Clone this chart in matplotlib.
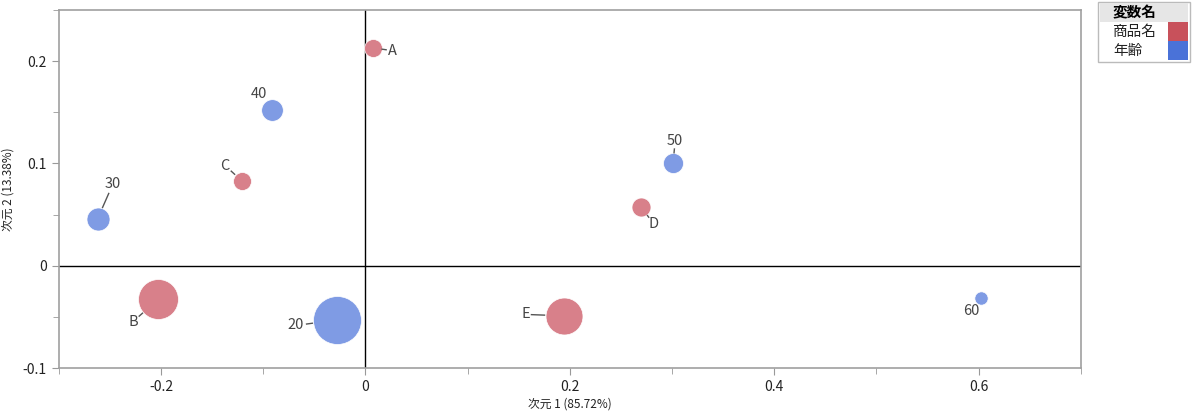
import numpy as np
import matplotlib.pyplot as plt
from matplotlib.patches import Rectangle
from matplotlib.ticker import MultipleLocator

plt.rcParams['font.family'] = ['Noto Sans CJK JP', 'DejaVu Sans']

# データ
labels = ['A', 'B', 'C', 'D', 'E', '20', '30', '40', '50', '60']
groups = ['商品名'] * 5 + ['年齢'] * 5
dim1 = [0.007, -0.203, -0.121, 0.270, 0.194, -0.028, -0.262, -0.091, 0.301, 0.602]
dim2 = [0.213, -0.033, 0.083, 0.057, -0.049, -0.053, 0.046, 0.152, 0.100, -0.032]
mass = [0.042, 0.208, 0.042, 0.047, 0.178, 0.300, 0.069, 0.061, 0.052, 0.023]
legend_names = ['商品名', '年齢']

fill = {'商品名': '#d8808a', '年齢': '#7f9be4'}
swatch = {'商品名': '#c8515b', '年齢': '#4a72d8'}
# ラベル位置 (points)
offs = {'A': (14, -2), 'B': (-18, -16), 'C': (-12, 11), 'D': (9, -12), 'E': (-27, 1),
        '20': (-29.5, -4), '30': (11, 25), '40': (-10, 12), '50': (1.5, 16), '60': (-7, -9)}

fig = plt.figure(figsize=(12, 4.19), dpi=100)
ax = fig.add_axes([0.049, 0.1217, 0.8517, 0.8545])
ax.set_xlim(-0.3, 0.7)
ax.set_ylim(-0.1, 0.25)

pt = fig.dpi / 72
r_pt = np.sqrt(np.array(mass) / 0.3) * 24 * 0.72
for i in range(len(labels)):
    x, y = dim1[i], dim2[i]
    ax.scatter(x, y, s=(2 * r_pt[i]) ** 2, color=fill[groups[i]],
               edgecolor='white', linewidth=0.5, zorder=3)
    dx, dy = offs[labels[i]]
    ax.annotate(labels[i], (x, y), xytext=(dx, dy), textcoords='offset points',
                ha='center', va='center', fontsize=10.5, color='#444444', zorder=4)
    # 引き出し線
    d = np.hypot(dx, dy)
    ux, uy = dx / d, dy / d
    gap = abs(ux) * 3.6 * len(labels[i]) + abs(uy) * 5
    a, b = r_pt[i] + 0.5, d - gap
    if b - a > 1:
        cx, cy = ax.transData.transform((x, y))
        p = np.array([[cx + ux * a * pt, cy + uy * a * pt], [cx + ux * b * pt, cy + uy * b * pt]])
        q = ax.transData.inverted().transform(p)
        ax.plot(q[:, 0], q[:, 1], color='#555555', lw=1, zorder=4)

ax.axhline(0, color='black', lw=1, zorder=1)
ax.axvline(0, color='black', lw=1, zorder=1)

ax.set_xticks([-0.2, 0, 0.2, 0.4, 0.6])
ax.set_xticklabels(['-0.2', '0', '0.2', '0.4', '0.6'])
ax.set_yticks([-0.1, 0, 0.1, 0.2])
ax.set_yticklabels(['-0.1', '0', '0.1', '0.2'])
ax.xaxis.set_minor_locator(MultipleLocator(0.1))
ax.yaxis.set_minor_locator(MultipleLocator(0.05))
ax.tick_params(which='both', colors='#999999', labelcolor='#222222', labelsize=10)
ax.tick_params(which='major', length=5)
ax.tick_params(which='minor', length=4)
for s in ax.spines.values():
    s.set_color('#a0a0a0')
    s.set_linewidth(1.2)
ax.set_xlabel('次元 1 (85.72%)', fontsize=8.5, color='#222222', labelpad=3)
ax.set_ylabel('次元 2 (13.38%)', fontsize=8.5, color='#222222', labelpad=6)

# 凡例
W, H = 1200, 419
def px(x, y):
    return x / W, 1 - y / H
x0, y0, x1, y1 = 1098, 2, 1190, 62
fig.patches.append(Rectangle(px(x0, y1), (x1 - x0) / W, (y1 - y0) / H, transform=fig.transFigure,
                             facecolor='white', edgecolor='#bbbbbb', lw=1))
fig.patches.append(Rectangle(px(x0 + 2, 22), (x1 - x0 - 4) / W, 19 / H, transform=fig.transFigure,
                             facecolor='#e6e6e6', edgecolor='none'))
fig.text(*px(1113, 12), '変数名', fontsize=10.5, fontweight='bold', va='center', ha='left')
for j, name in enumerate(legend_names):
    yt = 22 + j * 19
    fig.patches.append(Rectangle(px(1168, yt + 19), 20 / W, 19 / H, transform=fig.transFigure,
                                 facecolor=swatch[name], edgecolor='none'))
    fig.text(*px(1113, yt + 10), name, fontsize=10.5, va='center', ha='left', color='#222222')

fig.savefig('out.png', dpi=100)
